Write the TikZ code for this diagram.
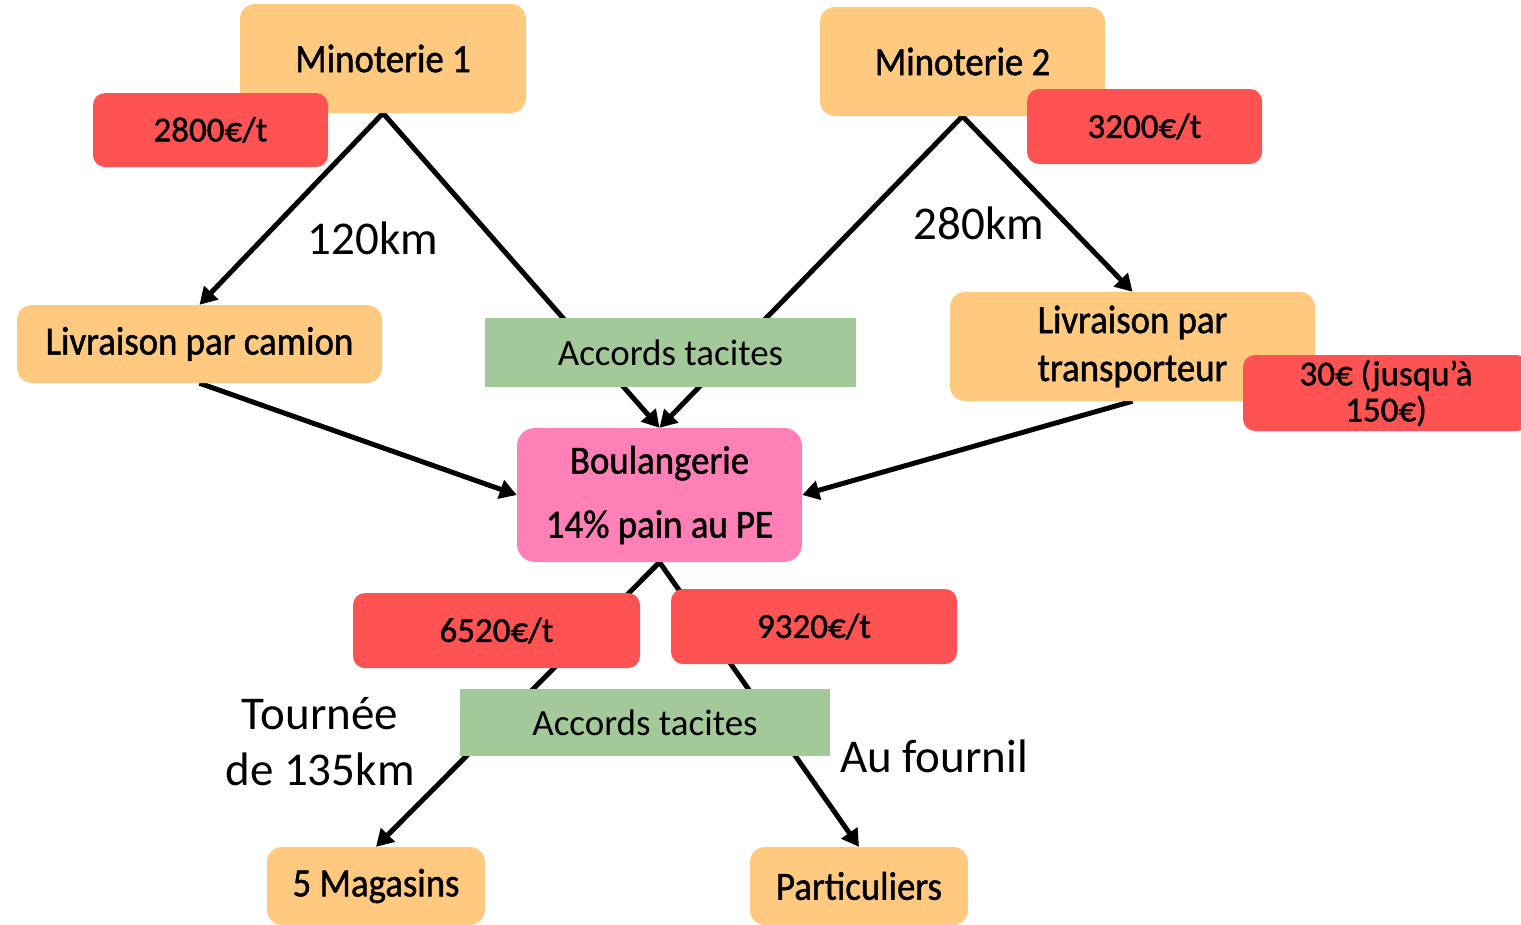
\documentclass[tikz,border=0pt]{standalone}
\usepackage{fontspec}
\setmainfont{Carlito}
\newfontfamily\boxfont[FakeStretch=0.92,FakeBold=1.2]{Carlito}
\newfontfamily\redfont[FakeBold=1.2]{Carlito}
\usetikzlibrary{arrows.meta}
\pgfdeclarelayer{bg}
\pgfsetlayers{bg,main}
\definecolor{orangebox}{RGB}{255,202,128}
\definecolor{redbox}{RGB}{255,82,82}
\definecolor{greenbox}{RGB}{163,201,154}
\definecolor{pinkbox}{RGB}{255,128,182}
\tikzset{
  obox/.style={fill=orangebox, rounded corners=15pt, inner sep=0pt, align=center, font=\boxfont\fontsize{40}{48}\selectfont},
  rbox/.style={fill=redbox, rounded corners=12pt, inner sep=0pt, align=center, font=\redfont\fontsize{35}{36}\selectfont},
  gbox/.style={fill=greenbox, inner sep=0pt, align=center, font=\fontsize{37}{40}\selectfont},
  pbox/.style={fill=pinkbox, rounded corners=18pt, inner sep=0pt, align=center, font=\boxfont\fontsize{40}{64}\selectfont},
  lbl/.style={inner sep=0pt, align=center, font=\fontsize{47}{56}\selectfont},
  conn/.style={line width=5pt, -{Triangle[length=17pt,width=19pt]}},
}
\begin{document}
\begin{tikzpicture}[x=1pt,y=-1pt]
\useasboundingbox (0,0) rectangle (1521,924);
% orange boxes
\node[obox, minimum width=286pt, minimum height=109pt] (m1) at (383,58.5) {Minoterie 1};
\node[obox, minimum width=285pt, minimum height=109pt] (m2) at (962.5,61.5) {Minoterie 2};
\node[obox, minimum width=365pt, minimum height=78pt] (lc) at (199.5,344) {Livraison par camion};
\node[obox, minimum width=365pt, minimum height=109pt] (lt) at (1132.5,346.5) {Livraison par\\transporteur};
\node[pbox, minimum width=285pt, minimum height=134pt] (boul) at (659.5,495) {Boulangerie\\14\% pain au PE};
\node[obox, minimum width=218pt, minimum height=78pt] (mag) at (376,886) {5 Magasins};
\node[obox, minimum width=218pt, minimum height=78pt] (part) at (859,886) {Particuliers};
% green boxes
\node[gbox, minimum width=371pt, minimum height=69pt] (acc1) at (670.5,352.5) {Accords tacites};
\node[gbox, minimum width=370pt, minimum height=67pt] (acc2) at (645,722.5) {Accords tacites};
% red boxes
\node[rbox, minimum width=235pt, minimum height=74pt] (p1) at (210.5,130) {2800€/t};
\node[rbox, minimum width=235pt, minimum height=75pt] (p2) at (1144.5,126.5) {3200€/t};
\node[rbox, minimum width=286pt, minimum height=76pt] (p3) at (1386,393) {30€ (jusqu’à\\150€)};
\node[rbox, minimum width=287pt, minimum height=75pt] (p4) at (496.5,630.5) {6520€/t};
\node[rbox, minimum width=286pt, minimum height=75pt] (p5) at (814,626.5) {9320€/t};
% labels
\node[lbl] (l120) at (373,238) {120km};
\node[lbl] (l280) at (979,223) {280km};
\node[lbl] (ltour) at (320,742) {Tournée\\de 135km};
\node[lbl] (lfour) at (934,756) {Au fournil};
% connectors
\begin{pgfonlayer}{bg}
\draw[conn] (m1.south) -- (lc.north);
\draw[conn] (m1.south) -- (boul.north);
\draw[conn] (m2.south) -- (boul.north);
\draw[conn] (m2.south) -- (lt.north);
\draw[conn] (lc.south) -- (boul.west);
\draw[conn] (lt.south) -- (boul.east);
\draw[conn] (boul.south) -- (mag.north);
\draw[conn] (boul.south) -- (part.north);
\end{pgfonlayer}
\end{tikzpicture}
\end{document}
